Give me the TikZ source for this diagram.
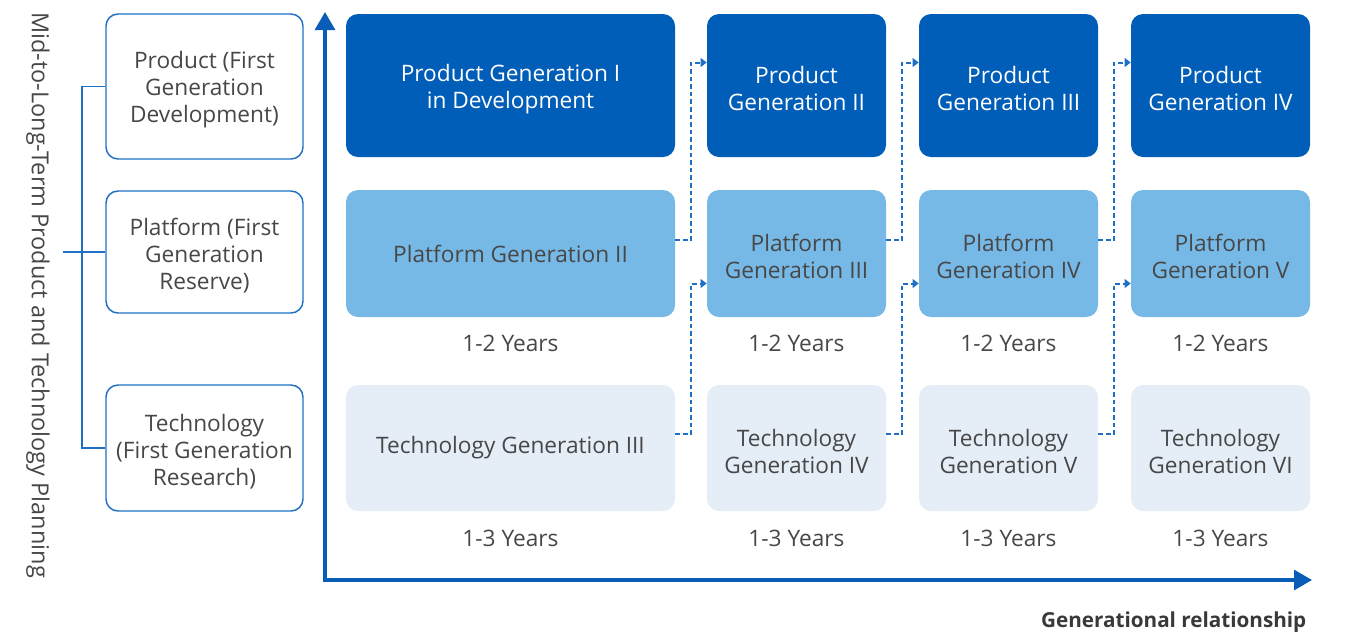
\documentclass[tikz,border=0pt]{standalone}
\usepackage{fontspec}
\setmainfont{Open Sans}
\usetikzlibrary{arrows.meta}
\definecolor{dblue}{HTML}{005EB8}
\definecolor{lblue}{HTML}{77B9E6}
\definecolor{pblue}{HTML}{E5EDF7}
\definecolor{lineblue}{HTML}{1F6FC5}
\definecolor{axisblue}{HTML}{0A5DB7}
\definecolor{txtgray}{HTML}{474747}
\newcommand\lowstrut{\rule{0pt}{18pt}}
\tikzset{
  gen/.style={rounded corners=9pt, align=center, inner sep=0pt,
    font=\fontsize{17}{20.2}\selectfont},
  rowone/.style={gen, fill=dblue, text=white, minimum height=107.25pt},
  rowtwo/.style={gen, fill=lblue, text=txtgray, minimum height=95.25pt},
  rowthree/.style={gen, fill=pblue, text=txtgray, minimum height=94.5pt},
  wide/.style={minimum width=246.75pt},
  narrow/.style={minimum width=134.25pt},
  leftbox/.style={gen, draw=lineblue, line width=1.1pt, fill=white, text=txtgray, minimum width=147.75pt},
  years/.style={font=\fontsize{17}{20}\selectfont, text=txtgray},
  link/.style={draw=lineblue, line width=1.5pt, dash pattern=on 3.5pt off 2.2pt,
    -{Triangle[length=4.5pt,width=6.5pt]}},
  bracket/.style={draw=lineblue, line width=1.1pt},
  axis/.style={draw=axisblue, line width=2.3pt}
}
\begin{document}
\begin{tikzpicture}[x=0.75pt,y=-0.75pt]
\useasboundingbox (0,0) rectangle (1345,633);
% left boxes
\node[leftbox, minimum height=108.75pt] (lp) at (204.5,86.5) {\lowstrut Product (First\\Generation\\Development)};
\node[leftbox, minimum height=91.5pt] (lf) at (204.5,252) {\lowstrut Platform (First\\Generation\\Reserve)};
\node[leftbox, minimum height=94.5pt] (lt) at (204.5,448) {\lowstrut Technology\\(First Generation\\Research)};
% bracket
\coordinate (bt) at (82,86.5);
\coordinate (bb) at (82,448);
\coordinate (bm) at (63,252);
\draw[bracket] (lp.west) -- (bt) -- (bb) -- (lt.west);
\draw[bracket] (bm) -- (lf.west);
\node[rotate=-90, font=\fontsize{17.6}{20}\selectfont, text=txtgray] (vt) at (38,295) {Mid-to-Long-Term Product and Technology Planning};
% axes
\coordinate (top) at (325,12);
\coordinate (org) at (325,580);
\coordinate (rgt) at (1312,580);
\draw[axis, {Triangle[length=13.5pt,width=15pt]}-{Triangle[length=13.5pt,width=15pt]}] (top) -- (org) -- (rgt);
\node[anchor=east, font=\bfseries\fontsize{15.5}{18}\selectfont, text=txtgray!80!black] (gr) at (1311,622) {Generational relationship};
% row 1
\node[rowone, wide] (p1) at (510.5,85.5) {\lowstrut Product Generation I\\in Development};
\node[rowone, narrow] (p2) at (796.5,85.5) {\lowstrut Product\\Generation II};
\node[rowone, narrow] (p3) at (1008.5,85.5) {\lowstrut Product\\Generation III};
\node[rowone, narrow] (p4) at (1220.5,85.5) {\lowstrut Product\\Generation IV};
% row 2
\node[rowtwo, wide] (f1) at (510.5,253.5) {Platform Generation II};
\node[rowtwo, narrow] (f2) at (796.5,253.5) {\lowstrut Platform\\Generation III};
\node[rowtwo, narrow] (f3) at (1008.5,253.5) {\lowstrut Platform\\Generation IV};
\node[rowtwo, narrow] (f4) at (1220.5,253.5) {\lowstrut Platform\\Generation V};
% row 3
\node[rowthree, wide] (t1) at (510.5,448) {Technology Generation III};
\node[rowthree, narrow] (t2) at (796.5,448) {\lowstrut Technology\\Generation IV};
\node[rowthree, narrow] (t3) at (1008.5,448) {\lowstrut Technology\\Generation V};
\node[rowthree, narrow] (t4) at (1220.5,448) {\lowstrut Technology\\Generation VI};
% years
\foreach \n/\x in {1/510.5,2/796.5,3/1008.5,4/1220.5}{
  \node[years] (ya\n) at (\x,343.5) {1-2 Years};
  \node[years] (yb\n) at (\x,538.5) {1-3 Years};
}
% links
\foreach \a/\b in {1/2,2/3,3/4}{
  \draw[link] ([yshift=10.125pt]f\a.east) -- ++(16,0) |- ([yshift=17.25pt]p\b.west);
  \draw[link] ([yshift=10.5pt]t\a.east) -- ++(16,0) |- ([yshift=-22.5pt]f\b.west);
}
\end{tikzpicture}
\end{document}
